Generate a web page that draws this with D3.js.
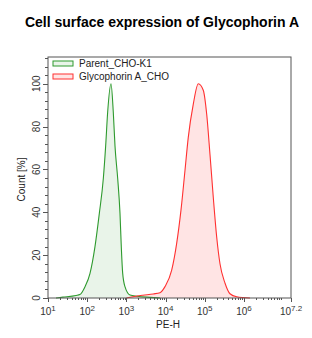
<!DOCTYPE html>
<html>
<head>
<meta charset="utf-8">
<script src="https://cdn.jsdelivr.net/npm/d3@7"></script>
<style>
  body { margin: 0; background: #fff; }
  text { font-family: Arial, "Liberation Sans", sans-serif; }
</style>
</head>
<body>
<div id="chart"></div>
<script>
// PE-H intensity vs count [%]
const parentX = [16, 24, 52, 65, 88, 118, 158, 204, 258, 296, 333, 405, 463, 512, 600, 687, 741, 805, 920, 1236, 1862, 3981, 7244];
const parentY = [0, 0.4, 1.2, 1.6, 5.3, 11.5, 24, 39.5, 55.8, 71, 86.8, 100, 86.8, 71, 55.8, 39.5, 24, 11.5, 5.3, 1.4, 0.8, 0.3, 0];

const gpaX = [1000, 1472, 2649, 4853, 7194, 9661, 14322, 19187, 24717, 31261, 37931, 50933, 68234, 91622, 111686, 135831, 164816, 201372, 244343, 327341, 439542, 651628, 1422320];
const gpaY = [0, 0.6, 1.3, 1.9, 2.5, 5.3, 13, 25.5, 41, 59.5, 75, 90.5, 100, 97, 86, 67, 47, 28.5, 16, 7, 2, 0.6, 0];

const seriesNames = ['Parent_CHO-K1', 'Glycophorin A_CHO'];
const xTickExp = ['1', '2', '3', '4', '5', '6', '7.2'];
const yTicks = [0, 20, 40, 60, 80, 100];

const W = 312, H = 338;
const margin = { top: 57, right: 21, bottom: 40, left: 48 };
const width = W - margin.left - margin.right;
const height = H - margin.top - margin.bottom;

const svg = d3.select('#chart')
  .append('svg')
  .attr('width', W)
  .attr('height', H);

svg.append('text')
  .attr('x', 162)
  .attr('y', 27)
  .attr('text-anchor', 'middle')
  .attr('font-size', 14)
  .attr('font-weight', 'bold')
  .attr('fill', '#000')
  .text('Cell surface expression of Glycophorin A');

const g = svg.append('g')
  .attr('transform', `translate(${margin.left},${margin.top})`);

const x = d3.scaleLog()
  .domain([10, Math.pow(10, 7.2)])
  .range([0, width]);

const y = d3.scaleLinear()
  .domain([0, 112.5])
  .range([height, 0]);

// Curves
const area = (xs, ys) => d3.area()
  .x((d, i) => x(xs[i]))
  .y0(y(0))
  .y1((d, i) => y(ys[i]))
  .curve(d3.curveMonotoneX)(ys);

const line = (xs, ys) => d3.line()
  .x((d, i) => x(xs[i]))
  .y((d, i) => y(ys[i]))
  .curve(d3.curveMonotoneX)(ys);

g.append('path').attr('d', area(parentX, parentY)).attr('fill', '#e9f4e9');
g.append('path').attr('d', area(gpaX, gpaY)).attr('fill', '#ffe4e4');
g.append('path').attr('d', line(parentX, parentY))
  .attr('fill', 'none').attr('stroke', '#2e9a2e').attr('stroke-width', 1.1);
g.append('path').attr('d', line(gpaX, gpaY))
  .attr('fill', 'none').attr('stroke', '#ff3030').attr('stroke-width', 1.1);

// Frame
g.append('rect')
  .attr('width', width)
  .attr('height', height)
  .attr('fill', 'none')
  .attr('stroke', '#555');

// Y axis
const yMinor = d3.range(0, 113, 4);
g.append('g')
  .selectAll('line')
  .data(yMinor)
  .join('line')
  .attr('x1', 0).attr('x2', -3)
  .attr('y1', d => Math.round(y(d)) + 0.5).attr('y2', d => Math.round(y(d)) + 0.5)
  .attr('stroke', '#555');

g.append('g')
  .selectAll('line')
  .data(yTicks)
  .join('line')
  .attr('x1', 0).attr('x2', -5)
  .attr('y1', d => Math.round(y(d)) + 0.5).attr('y2', d => Math.round(y(d)) + 0.5)
  .attr('stroke', '#555');

g.append('g')
  .selectAll('text')
  .data(yTicks)
  .join('text')
  .attr('transform', d => `translate(-8,${y(d)}) rotate(-90)`)
  .attr('text-anchor', 'middle')
  .attr('font-size', 10)
  .attr('fill', '#333')
  .text(d => d);

svg.append('text')
  .attr('transform', `translate(25,${margin.top + height / 2 + 2}) rotate(-90)`)
  .attr('text-anchor', 'middle')
  .attr('font-size', 10)
  .attr('fill', '#222')
  .text('Count [%]');

// X axis
const xMinor = [];
for (let e = 1; e <= 6; e++) {
  for (let m = 2; m <= 9; m++) xMinor.push(m * Math.pow(10, e));
}
g.append('g')
  .selectAll('line')
  .data(xMinor)
  .join('line')
  .attr('x1', d => Math.round(x(d)) + 0.5).attr('x2', d => Math.round(x(d)) + 0.5)
  .attr('y1', height).attr('y2', height + 2)
  .attr('stroke', '#555');

g.append('g')
  .selectAll('line')
  .data(xTickExp)
  .join('line')
  .attr('x1', d => Math.round(x(Math.pow(10, +d))) + 0.5)
  .attr('x2', d => Math.round(x(Math.pow(10, +d))) + 0.5)
  .attr('y1', height).attr('y2', height + 4)
  .attr('stroke', '#555');

const xl = g.append('g')
  .selectAll('text')
  .data(xTickExp)
  .join('text')
  .attr('x', d => x(Math.pow(10, +d)))
  .attr('y', height + 17)
  .attr('text-anchor', 'middle')
  .attr('font-size', 10)
  .attr('fill', '#333');
xl.append('tspan').text('10');
xl.append('tspan')
  .attr('dy', -4)
  .attr('font-size', 8)
  .text(d => d);

svg.append('text')
  .attr('x', 168)
  .attr('y', 328)
  .attr('text-anchor', 'middle')
  .attr('font-size', 10)
  .attr('fill', '#222')
  .text('PE-H');

// Legend
const colors = [['#2e9a2e', '#e9f4e9'], ['#ff3030', '#ffe4e4']];
const leg = svg.append('g')
  .selectAll('g')
  .data(seriesNames)
  .join('g')
  .attr('transform', (d, i) => `translate(53,${61 + i * 13})`);
leg.append('rect')
  .attr('width', 20).attr('height', 5)
  .attr('fill', (d, i) => colors[i][1])
  .attr('stroke', (d, i) => colors[i][0]);
leg.append('text')
  .attr('x', 26).attr('y', 5.5)
  .attr('font-size', 10)
  .attr('fill', '#222')
  .text(d => d);
</script>
</body>
</html>
